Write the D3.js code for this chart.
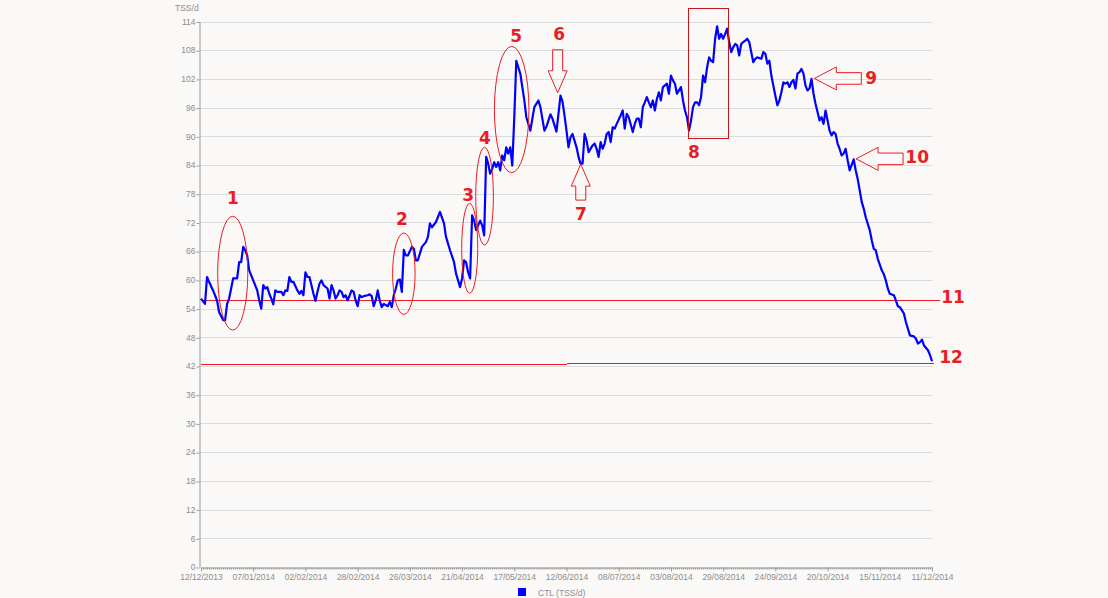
<!DOCTYPE html>
<html>
<head>
<meta charset="utf-8">
<title>CTL (TSS/d)</title>
<script src="https://cdn.jsdelivr.net/npm/d3@7"></script>
<style>
  body { margin: 0; background: #faf9f7; }
  svg { display: block; background: #faf9f7; }
  svg text { font-family: "Liberation Sans", Arial, sans-serif; }
  .axis text { fill: #8c8c8c; font-size: 8.5px; }
  .axis path, .axis line { stroke: #9a9a9a; }
  .grid line { stroke: #dcdcdc; }
  .note { fill: #ec1c24; font: bold 17px "DejaVu Sans", sans-serif; text-anchor: middle; }
</style>
</head>
<body>
<svg id="chart" width="1108" height="598"></svg>
<script>
  //1. Data: days since the first date, and CTL for that day
  var startDate = "2013-12-12";
  var dayCount = 364;
  var dayOffsets = [0,2,3,4,6,8,9,11,12,13,14,15,16,18,19,20,21,22,23,24,26,28,29,30,31,32,33,34,35,36,37,38,40,41,42,43,44,45,46,48,49,50,51,52,53,54,55,56,57,58,59,60,61,63,64,65,66,67,68,69,70,71,72,73,75,76,77,78,79,80,81,83,84,85,86,87,88,89,90,91,93,94,95,96,97,98,99,100,
    101,102,103,105,106,107,108,110,112,113,114,115,117,119,121,122,124,126,127,129,130,131,132,133,134,135,136,137,139,140,141,142,143,144,145,146,147,148,149,150,151,152,153,154,155,156,157,158,159,160,161,162,164,165,166,168,169,171,172,173,174,175,177,178,179,180,181,182,183,184,185,187,188,189,190,191,192,193,195,196,197,198,199,200,
    201,202,203,204,205,206,207,209,210,211,212,213,215,216,217,218,219,220,221,222,223,224,225,226,227,228,229,230,232,233,234,235,236,237,238,239,240,241,242,243,244,245,246,247,248,249,250,251,252,253,254,255,256,257,258,259,260,261,262,263,264,265,266,267,268,269,270,271,272,273,274,275,276,277,279,280,281,282,283,284,285,286,287,288,289,290,291,292,293,294,295,296,297,298,299,300,
    301,302,303,304,305,306,307,308,309,310,311,312,313,314,315,316,317,318,319,320,321,322,323,325,326,327,328,329,330,331,333,334,335,336,337,339,340,341,342,343,345,346,347,348,350,351,352,353,355,356,357,358,359,360,362,363,364];
  var ctl = [56.1,55.0,60.6,59.6,57.8,55.7,53.3,51.6,51.6,55.0,56.1,58.2,60.3,60.3,63.7,63.7,66.9,66.2,65.1,62.0,59.9,57.8,55.7,54.0,58.9,58.2,58.5,57.1,56.1,54.9,57.8,57.5,57.5,56.8,57.8,57.7,60.6,59.6,59.6,57.8,57.1,57.7,56.8,61.6,60.6,60.6,58.9,57.1,55.6,57.5,59.2,59.9,58.9,58.2,56.1,58.9,57.8,56.1,56.8,57.8,57.5,56.4,56.8,55.7,57.8,57.5,55.7,54.5,56.8,56.4,56.6,56.8,57.0,56.6,54.5,55.7,57.8,55.7,54.3,55.0,54.5,55.4,54.3,56.8,58.2,59.9,60.1,57.5,
    66.3,65.1,65.1,66.9,66.5,64.1,64.1,66.9,67.9,69.0,71.8,71.0,72.1,74.2,71.8,69.0,66.2,63.7,61.3,58.5,60.3,64.1,63.7,61.6,60.3,73.5,72.4,70.4,72.4,71.4,69.3,85.7,84.3,82.2,83.2,84.6,83.6,84.6,82.9,86.0,85.0,87.7,86.4,87.7,83.9,94.0,105.8,104.4,103.1,100.3,97.5,94.0,91.2,93.7,96.1,97.5,96.1,91.2,92.0,93.3,94.6,93.7,91.0,94.7,98.5,97.3,94.4,91.2,87.7,89.8,90.5,87.7,85.7,84.3,84.3,90.5,89.1,86.7,88.1,88.5,87.4,85.7,88.8,87.4,
    88.5,90.5,90.9,88.8,91.9,91.6,92.6,94.4,95.4,91.6,94.7,94.0,90.9,92.6,93.7,93.7,91.9,96.1,97.1,98.2,97.1,96.1,97.5,95.4,97.8,99.2,97.5,100.3,101.0,98.9,102.7,101.7,101.0,98.9,99.6,100.3,97.5,95.4,94.0,91.2,93.3,96.1,97.1,97.1,96.5,98.2,102.7,101.3,104.4,106.5,105.8,105.5,110.4,113.0,110.4,111.4,110.4,111.4,112.5,109.7,107.6,108.6,109.3,109.0,106.9,109.3,109.7,110.0,110.4,109.7,107.6,105.5,106.2,106.5,106.2,107.6,107.3,105.2,105.8,102.7,100.6,98.5,96.5,97.5,99.2,101.3,101.0,101.3,100.3,101.3,101.8,100.0,103.1,103.4,104.1,103.1,
    100.6,99.6,100.0,102.0,98.9,96.8,95.1,93.3,94.0,92.6,95.4,93.3,91.2,90.2,90.9,90.5,88.5,87.4,86.0,86.4,87.4,85.0,82.9,85.2,82.9,81.1,78.7,76.3,74.9,73.1,70.4,68.3,66.5,66.2,64.4,62.0,61.2,59.9,58.2,57.1,56.8,55.7,54.5,54.3,53.0,51.2,49.8,48.4,48.2,47.7,46.7,47.0,47.5,46.3,45.3,44.3,43.0];
  var yTicks = d3.range(0, 115, 6);
  var tickStepDays = 26;

  //2. Annotations, in chart units (day offset, CTL)
  var refLines = [
    { from: 0, to: 368, v: 55.9 },
    { from: 0, to: 182.3, v: 42.4 },
    { from: 182.3, to: 365, v: 42.6 }
  ];
  var rings = [
    { day: 15.8, v: 61.4, rd: 7.5, rv: 11.9 },
    { day: 101.0, v: 61.3, rd: 5.6, rv: 8.5 },
    { day: 133.8, v: 66.6, rd: 4.0, rv: 9.4 },
    { day: 141.2, v: 77.5, rd: 4.4, rv: 10.2 },
    { day: 154.7, v: 95.6, rd: 8.6, rv: 13.2 }
  ];
  var arrows = [
    { day: 177.6, v: 99.1, dir: "down" },
    { day: 189.1, v: 84.2, dir: "up" },
    { day: 305.4, v: 102.1, dir: "left" },
    { day: 326.2, v: 85.3, dir: "left" }
  ];
  var box = { from: 242.4, to: 262.3, top: 116.9, bottom: 89.8 };
  var notes = [
    { t: "1", day: 15.9, v: 77.1 }, { t: "2", day: 100.1, v: 72.7 },
    { t: "3", day: 133.0, v: 77.7 }, { t: "4", day: 141.4, v: 89.6 },
    { t: "5", day: 156.9, v: 110.9 }, { t: "6", day: 178.3, v: 111.5 },
    { t: "7", day: 189.2, v: 73.8 }, { t: "8", day: 245.5, v: 86.7 },
    { t: "9", day: 333.7, v: 102.2 }, { t: "10", day: 356.6, v: 85.7 },
    { t: "11", day: 374.5, v: 56.4 }, { t: "12", day: 373.5, v: 43.9 }
  ];

  //3. Scales
  var start = d3.utcParse("%Y-%m-%d")(startDate);
  var dayDate = function(d) { return new Date(start.getTime() + d * 864e5); };
  var x = d3.scaleUtc()
    .domain([start, d3.utcDay.offset(start, dayCount)])
    .range([201, 932]);
  var y = d3.scaleLinear()
    .domain([0, 114])
    .range([567, 21.5]);
  var xd = function(d) { return x(dayDate(d)); };

  var svg = d3.select("#chart");
  var red = "#ec1c24";

  //4. Grid
  svg.append("g").attr("class", "grid")
    .selectAll("line")
    .data(yTicks.filter(function(v) { return v > 0; }))
    .enter().append("line")
    .attr("x1", 200).attr("x2", 932.5)
    .attr("y1", function(v) { return Math.round(y(v)) + 0.5; })
    .attr("y2", function(v) { return Math.round(y(v)) + 0.5; });

  //5. Axes
  var majorTicks = d3.range(0, dayCount + 1, tickStepDays).map(function(d) { return d3.utcDay.offset(start, d); });
  var minorTicks = d3.range(0, dayCount + 1).map(function(d) { return d3.utcDay.offset(start, d); });

  svg.append("g").attr("class", "axis")
    .attr("transform", "translate(0,567.5)")
    .call(d3.axisBottom(x).tickValues(minorTicks).tickSize(2).tickFormat(""))
    .call(function(g) { g.select(".domain").remove(); });

  svg.append("g").attr("class", "axis")
    .attr("transform", "translate(0,567.5)")
    .call(d3.axisBottom(x).tickValues(majorTicks).tickSize(4).tickSizeOuter(0).tickPadding(2)
      .tickFormat(d3.utcFormat("%d/%m/%Y")));

  svg.append("g").attr("class", "axis")
    .attr("transform", "translate(199.5,0)")
    .call(d3.axisLeft(y).tickValues(yTicks).tickSize(3).tickSizeOuter(0).tickPadding(1))
    .call(function(g) { g.selectAll(".tick line").attr("transform", "translate(0,0.5)"); });

  svg.append("text")
    .attr("x", 175).attr("y", 11)
    .attr("fill", "#8c8c8c").attr("font-size", 8.5)
    .text("TSS/d");

  //6. Reference lines
  svg.append("g").selectAll("line")
    .data(refLines)
    .enter().append("line")
    .attr("x1", function(d) { return xd(d.from); })
    .attr("x2", function(d) { return xd(d.to); })
    .attr("y1", function(d) { return Math.round(y(d.v)) + 0.5; })
    .attr("y2", function(d) { return Math.round(y(d.v)) + 0.5; })
    .attr("stroke", red).attr("stroke-width", 1);

  //7. CTL line
  var points = dayOffsets.map(function(d, i) { return { day: d, v: ctl[i] }; });
  svg.append("path")
    .datum(points)
    .attr("fill", "none")
    .attr("stroke", "#0000ff")
    .attr("stroke-width", 2.2)
    .attr("stroke-linejoin", "round")
    .attr("d", d3.line()
      .x(function(d) { return xd(d.day); })
      .y(function(d) { return y(d.v); }));

  //8. Annotations
  var ann = svg.append("g").attr("fill", "none").attr("stroke", red).attr("stroke-width", 1);

  ann.selectAll("ellipse")
    .data(rings)
    .enter().append("ellipse")
    .attr("cx", function(d) { return xd(d.day); })
    .attr("cy", function(d) { return y(d.v); })
    .attr("rx", function(d) { return xd(d.day + d.rd) - xd(d.day); })
    .attr("ry", function(d) { return y(d.v - d.rv) - y(d.v); });

  function arrowPath(d) {
    var tx = xd(d.day), ty = y(d.v);
    var len = d.dir === "left" ? 47 : (d.dir === "down" ? 43 : 36),
      head = 22, hw = d.dir === "left" ? 11.5 : 9.5, sw = d.dir === "left" ? 5.8 : 5;
    var pts = [[0, 0], [head, -hw], [head, -sw], [len, -sw], [len, sw], [head, sw], [head, hw]];
    var rot = { left: 0, down: -90, up: 90 }[d.dir];
    var a = rot * Math.PI / 180;
    return "M" + pts.map(function(p) {
      return [tx + p[0] * Math.cos(a) - p[1] * Math.sin(a), ty + p[0] * Math.sin(a) + p[1] * Math.cos(a)].join(",");
    }).join("L") + "Z";
  }
  ann.selectAll("path")
    .data(arrows)
    .enter().append("path")
    .attr("d", arrowPath);

  ann.append("rect")
    .attr("x", Math.round(xd(box.from)) + 0.5)
    .attr("y", Math.round(y(box.top)) + 0.5)
    .attr("width", Math.round(xd(box.to) - xd(box.from)))
    .attr("height", Math.round(y(box.bottom) - y(box.top)))
    .attr("stroke", "#c8161e");

  svg.append("g").selectAll("text")
    .data(notes)
    .enter().append("text")
    .attr("class", "note")
    .attr("x", function(d) { return xd(d.day); })
    .attr("y", function(d) { return y(d.v); })
    .attr("dy", "0.36em")
    .text(function(d) { return d.t; });

  //9. Legend
  var legend = svg.append("g").attr("transform", "translate(518,588)");
  legend.append("rect").attr("width", 8).attr("height", 8).attr("fill", "#0000ff");
  legend.append("text").attr("x", 20).attr("y", 8)
    .attr("fill", "#8c8c8c").attr("font-size", 8.5)
    .text("CTL (TSS/d)");
</script>
</body>
</html>
